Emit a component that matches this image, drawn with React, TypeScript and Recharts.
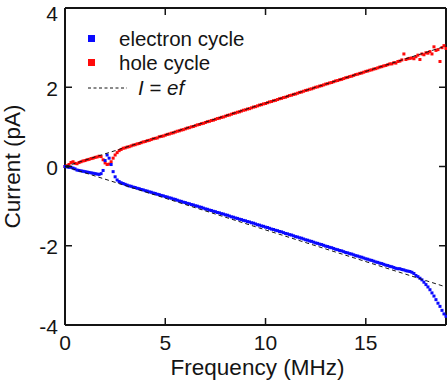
import React from 'react';
import { ComposedChart, Scatter, XAxis, YAxis, Legend } from 'recharts';

// frequency grid of the sweep (MHz)
const freq = [
  0.0, 0.1, 0.2, 0.3, 0.4, 0.5, 0.6, 0.7, 0.8, 0.9,
  1.0, 1.1, 1.2, 1.3, 1.4, 1.5, 1.6, 1.7, 1.8, 1.9,
  2.0, 2.1, 2.2, 2.3, 2.4, 2.5, 2.6, 2.7, 2.8, 2.9,
  3.0, 3.1, 3.2, 3.3, 3.4, 3.5, 3.6, 3.7, 3.8, 3.9,
  4.0, 4.1, 4.2, 4.3, 4.4, 4.5, 4.6, 4.7, 4.8, 4.9,
  5.0, 5.1, 5.2, 5.3, 5.4, 5.5, 5.6, 5.7, 5.8, 5.9,
  6.0, 6.1, 6.2, 6.3, 6.4, 6.5, 6.6, 6.7, 6.8, 6.9,
  7.0, 7.1, 7.2, 7.3, 7.4, 7.5, 7.6, 7.7, 7.8, 7.9,
  8.0, 8.1, 8.2, 8.3, 8.4, 8.5, 8.6, 8.7, 8.8, 8.9,
  9.0, 9.1, 9.2, 9.3, 9.4, 9.5, 9.6, 9.7, 9.8, 9.9,
  10.0, 10.1, 10.2, 10.3, 10.4, 10.5, 10.6, 10.7, 10.8, 10.9,
  11.0, 11.1, 11.2, 11.3, 11.4, 11.5, 11.6, 11.7, 11.8, 11.9,
  12.0, 12.1, 12.2, 12.3, 12.4, 12.5, 12.6, 12.7, 12.8, 12.9,
  13.0, 13.1, 13.2, 13.3, 13.4, 13.5, 13.6, 13.7, 13.8, 13.9,
  14.0, 14.1, 14.2, 14.3, 14.4, 14.5, 14.6, 14.7, 14.8, 14.9,
  15.0, 15.1, 15.2, 15.3, 15.4, 15.5, 15.6, 15.7, 15.8, 15.9,
  16.0, 16.1, 16.2, 16.3, 16.4, 16.5, 16.6, 16.7, 16.8, 16.9,
  17.0, 17.1, 17.2, 17.3, 17.4, 17.5, 17.6, 17.7, 17.8, 17.9,
  18.0, 18.1, 18.2, 18.3, 18.4, 18.5, 18.6, 18.7, 18.8, 18.9,
  19.0,
];

// hole cycle current (pA)
const holeCurrent = [
  0.00, 0.02, 0.05, 0.10, 0.12, 0.08, 0.07, 0.10, 0.12, 0.14,
  0.15, 0.17, 0.18, 0.20, 0.21, 0.23, 0.24, 0.26, 0.25, 0.17,
  0.09, 0.05, 0.06, 0.12, 0.21, 0.29, 0.35, 0.40, 0.43, 0.46,
  0.47, 0.49, 0.50, 0.52, 0.54, 0.55, 0.57, 0.58, 0.60, 0.62,
  0.63, 0.65, 0.66, 0.68, 0.70, 0.71, 0.72, 0.75, 0.76, 0.77,
  0.79, 0.81, 0.82, 0.84, 0.85, 0.87, 0.89, 0.90, 0.92, 0.93,
  0.95, 0.97, 0.98, 1.00, 1.01, 1.03, 1.05, 1.06, 1.08, 1.09,
  1.11, 1.13, 1.14, 1.16, 1.17, 1.19, 1.21, 1.22, 1.24, 1.25,
  1.27, 1.29, 1.30, 1.32, 1.34, 1.35, 1.37, 1.38, 1.40, 1.42,
  1.43, 1.45, 1.46, 1.48, 1.50, 1.51, 1.53, 1.55, 1.56, 1.58,
  1.59, 1.61, 1.63, 1.64, 1.66, 1.67, 1.69, 1.71, 1.72, 1.74,
  1.75, 1.77, 1.79, 1.80, 1.82, 1.83, 1.85, 1.87, 1.88, 1.90,
  1.92, 1.93, 1.95, 1.96, 1.98, 2.00, 2.01, 2.03, 2.04, 2.06,
  2.08, 2.09, 2.11, 2.12, 2.14, 2.16, 2.17, 2.19, 2.20, 2.22,
  2.24, 2.25, 2.27, 2.28, 2.30, 2.32, 2.33, 2.35, 2.36, 2.38,
  2.40, 2.41, 2.43, 2.44, 2.46, 2.47, 2.49, 2.51, 2.52, 2.54,
  2.55, 2.57, 2.59, 2.59, 2.62, 2.61, 2.65, 2.66, 2.69, 2.84,
  2.70, 2.72, 2.73, 2.74, 2.72, 2.77, 2.81, 2.70, 2.84, 2.82,
  2.87, 2.86, 2.90, 2.84, 3.02, 2.93, 2.95, 2.65, 3.00, 3.05,
  2.98,
];

// electron cycle current (pA)
const electronCurrent = [
  0.00, -0.01, -0.02, -0.02, -0.04, -0.06, -0.09, -0.10, -0.11, -0.12,
  -0.13, -0.14, -0.15, -0.16, -0.17, -0.18, -0.19, -0.20, -0.18, -0.10,
  0.15, 0.29, 0.21, 0.05, -0.13, -0.26, -0.34, -0.38, -0.41, -0.43,
  -0.45, -0.47, -0.49, -0.50, -0.52, -0.53, -0.55, -0.56, -0.58, -0.59,
  -0.61, -0.62, -0.64, -0.65, -0.67, -0.68, -0.70, -0.71, -0.73, -0.74,
  -0.76, -0.77, -0.79, -0.80, -0.82, -0.83, -0.85, -0.87, -0.88, -0.90,
  -0.91, -0.93, -0.94, -0.96, -0.97, -0.99, -1.00, -1.02, -1.03, -1.05,
  -1.07, -1.08, -1.10, -1.11, -1.13, -1.14, -1.16, -1.17, -1.19, -1.20,
  -1.22, -1.23, -1.25, -1.27, -1.28, -1.30, -1.31, -1.33, -1.34, -1.36,
  -1.37, -1.39, -1.40, -1.42, -1.43, -1.45, -1.47, -1.48, -1.50, -1.51,
  -1.53, -1.54, -1.56, -1.58, -1.59, -1.61, -1.62, -1.64, -1.65, -1.67,
  -1.69, -1.70, -1.72, -1.73, -1.75, -1.77, -1.78, -1.80, -1.81, -1.83,
  -1.85, -1.86, -1.88, -1.89, -1.91, -1.93, -1.94, -1.96, -1.97, -1.99,
  -2.01, -2.02, -2.04, -2.05, -2.07, -2.09, -2.10, -2.12, -2.13, -2.15,
  -2.17, -2.18, -2.20, -2.21, -2.23, -2.25, -2.26, -2.28, -2.29, -2.31,
  -2.33, -2.34, -2.36, -2.37, -2.39, -2.41, -2.42, -2.44, -2.45, -2.47,
  -2.49, -2.50, -2.52, -2.53, -2.55, -2.57, -2.58, -2.58, -2.60, -2.61,
  -2.63, -2.64, -2.65, -2.67, -2.70, -2.75, -2.78, -2.82, -2.86, -2.92,
  -2.98, -3.04, -3.11, -3.19, -3.27, -3.36, -3.45, -3.53, -3.63, -3.72,
  -3.78,
];

// I = ef reference lines
const idealFreq = [0, 19];
const idealHole = [0, 3.04];
const idealElectron = [0, -3.04];

const xTicks = [0, 5, 10, 15];
const yTicks = [-4, -2, 0, 2, 4];

const AXIS = '#141414';
const BLUE = '#0a0aff';
const RED = '#ff0a0a';
const FONT = '"Liberation Sans", Arial, Helvetica, sans-serif';

const holeData = freq.map((f, i) => ({ f, i: holeCurrent[i] }));
const electronData = freq.map((f, i) => ({ f, i: electronCurrent[i] }));
const idealHoleData = idealFreq.map((f, i) => ({ f, i: idealHole[i] }));
const idealElectronData = idealFreq.map((f, i) => ({ f, i: idealElectron[i] }));

const square = (color: string) => (p: any) => (
  <rect x={p.cx - 1.5} y={p.cy - 1.5} width={3} height={3} fill={color} />
);

const noShape = () => <g />;

// ticks point inward, Igor style
const BottomTick = (props: any) => {
  const { x, y, payload } = props;
  return (
    <g>
      <line x1={x} y1={y} x2={x} y2={y - 7} stroke={AXIS} strokeWidth={1.5} />
      <text x={x} y={y + 25} textAnchor="middle" fontSize={21} fontFamily={FONT} fill={AXIS}>
        {payload.value}
      </text>
    </g>
  );
};

const LeftTick = (props: any) => {
  const { x, y, payload } = props;
  const dy = payload.value === 4 ? 13 : 8.5;
  return (
    <g>
      <line x1={x} y1={y} x2={x + 7} y2={y} stroke={AXIS} strokeWidth={1.5} />
      <text x={x - 7} y={y + dy} textAnchor="end" fontSize={21} fontFamily={FONT} fill={AXIS}>
        {payload.value}
      </text>
    </g>
  );
};

const TopTick = (props: any) => (
  <line x1={props.x} y1={props.y} x2={props.x} y2={props.y + 7} stroke={AXIS} strokeWidth={1.5} />
);

const RightTick = (props: any) => (
  <line x1={props.x} y1={props.y} x2={props.x - 7} y2={props.y} stroke={AXIS} strokeWidth={1.5} />
);

const xLabel = (props: any) => {
  const vb = props.viewBox;
  return (
    <text x={vb.x + vb.width / 2 + 2} y={vb.y + 50} textAnchor="middle" fontSize={22.5} fontFamily={FONT} fill={AXIS}>
      Frequency (MHz)
    </text>
  );
};

const yLabel = (props: any) => {
  const vb = props.viewBox;
  const cx = 19.5;
  const cy = vb.y + vb.height / 2;
  return (
    <text x={cx} y={cy} transform={`rotate(-90, ${cx}, ${cy})`} textAnchor="middle" fontSize={22.5} fontFamily={FONT} fill={AXIS}>
      Current (pA)
    </text>
  );
};

const renderLegend = () => (
  <svg width={190} height={80} style={{ display: 'block', overflow: 'visible' }}>
    <rect x={8} y={9} width={7} height={7} fill={BLUE} />
    <text x={39} y={19.5} fontSize={20.5} fontFamily={FONT} fill={AXIS}>electron cycle</text>
    <rect x={8} y={33} width={7} height={7} fill={RED} />
    <text x={39} y={43.5} fontSize={20.5} fontFamily={FONT} fill={AXIS}>hole cycle</text>
    <line x1={8} y1={62} x2={47} y2={62} stroke={AXIS} strokeWidth={1} strokeDasharray="3 2.5" />
    <text x={58} y={68.5} fontSize={20.5} fontFamily={FONT} fill={AXIS}>
      <tspan fontStyle="italic">I</tspan>
      <tspan> = </tspan>
      <tspan fontStyle="italic">ef</tspan>
    </text>
  </svg>
);

const App: React.FC = () => {
  return (
    <div style={{ position: 'absolute', left: 0, top: 0, width: 447, height: 387, background: '#fff' }}>
      <ComposedChart width={447} height={387} margin={{ top: 7, right: 0, bottom: 0, left: 0 }}>
        <XAxis
          dataKey="f"
          type="number"
          domain={[0, 19]}
          ticks={xTicks}
          interval={0}
          height={62}
          tickSize={0}
          tickMargin={0}
          tickLine={false}
          tick={<BottomTick />}
          axisLine={{ stroke: AXIS, strokeWidth: 2 }}
          label={xLabel}
        />
        <XAxis
          xAxisId="top"
          dataKey="f"
          orientation="top"
          type="number"
          domain={[0, 19]}
          ticks={xTicks}
          interval={0}
          height={1}
          tickSize={0}
          tickMargin={0}
          tickLine={false}
          tick={<TopTick />}
          axisLine={{ stroke: AXIS, strokeWidth: 2 }}
        />
        <YAxis
          dataKey="i"
          type="number"
          domain={[-4, 4]}
          ticks={yTicks}
          interval={0}
          width={65}
          tickSize={0}
          tickMargin={0}
          tickLine={false}
          tick={<LeftTick />}
          axisLine={{ stroke: AXIS, strokeWidth: 2 }}
          label={yLabel}
        />
        <YAxis
          yAxisId="right"
          dataKey="i"
          orientation="right"
          type="number"
          domain={[-4, 4]}
          ticks={yTicks}
          interval={0}
          width={1}
          tickSize={0}
          tickMargin={0}
          tickLine={false}
          tick={<RightTick />}
          axisLine={{ stroke: AXIS, strokeWidth: 2 }}
        />
        <Legend layout="vertical" align="center" verticalAlign="middle" content={renderLegend} wrapperStyle={{ left: 80, top: 26, width: 190 }} />
        <Scatter name="hole cycle" data={holeData} fill={RED} shape={square(RED)} isAnimationActive={false} />
        <Scatter name="electron cycle" data={electronData} fill={BLUE} shape={square(BLUE)} isAnimationActive={false} />
        <Scatter
          name="I = ef"
          data={idealHoleData}
          xAxisId="top"
          yAxisId="right"
          line={{ stroke: AXIS, strokeWidth: 1, strokeDasharray: '4 3' }}
          shape={noShape}
          isAnimationActive={false}
        />
        <Scatter
          name="I = -ef"
          data={idealElectronData}
          line={{ stroke: AXIS, strokeWidth: 1, strokeDasharray: '4 3' }}
          shape={noShape}
          isAnimationActive={false}
        />
      </ComposedChart>
    </div>
  );
};

export default App;
